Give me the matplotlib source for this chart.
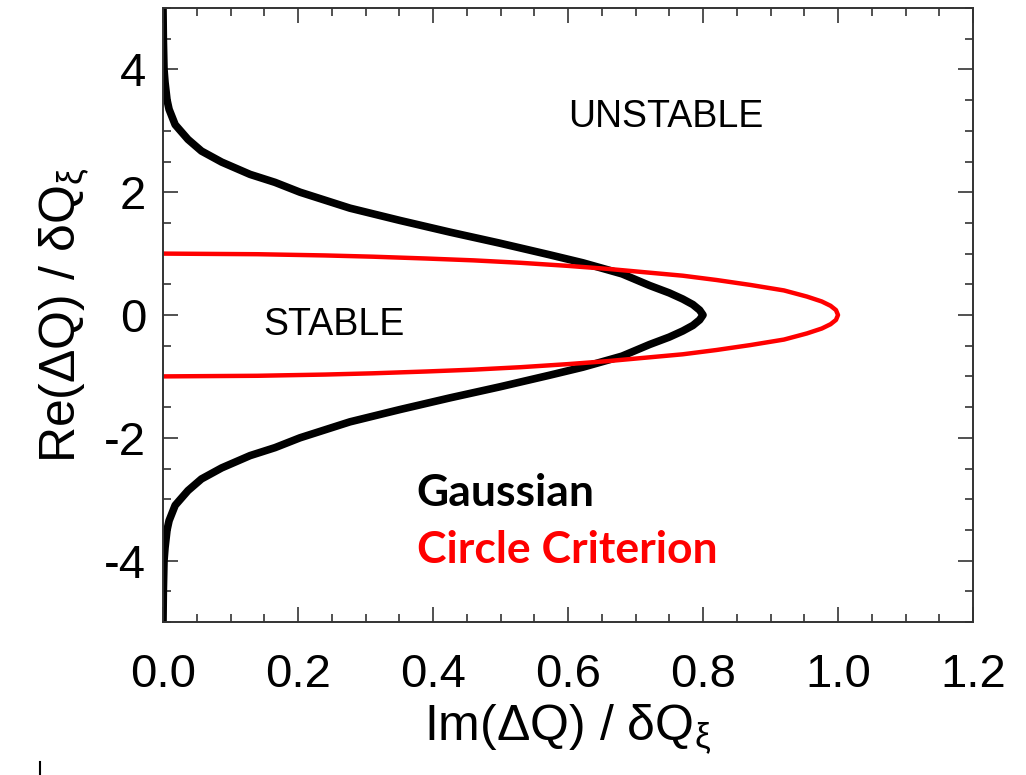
import matplotlib.pyplot as plt
import numpy as np
from matplotlib.ticker import MultipleLocator
from matplotlib.lines import Line2D

plt.rcParams['font.family'] = ['Liberation Sans', 'DejaVu Sans']
plt.rcParams['mathtext.fontset'] = 'custom'
plt.rcParams['mathtext.rm'] = 'Liberation Sans'
plt.rcParams['mathtext.it'] = 'Liberation Sans'

# Gaussian stability boundary, upper half, mirrored below
gauss_re = [5.0, 4.5, 4.0, 3.79, 3.5, 3.35, 3.1, 2.86, 2.67, 2.49, 2.29, 2.16,
            2.0, 1.74, 1.54, 1.35, 1.17, 0.98, 0.85, 0.67, 0.48, 0.36, 0.26,
            0.17, 0.08, 0.0]
gauss_im = [0.0, 0.0005, 0.0015, 0.003, 0.006, 0.009, 0.018, 0.037, 0.057,
            0.087, 0.129, 0.166, 0.203, 0.277, 0.351, 0.425, 0.499, 0.573,
            0.622, 0.68, 0.721, 0.75, 0.77, 0.785, 0.795, 0.80]

# circle criterion, upper half
circ_re = [1.0, 0.99, 0.97, 0.95, 0.92, 0.89, 0.85, 0.80, 0.75, 0.70, 0.64,
           0.57, 0.49, 0.40, 0.30, 0.22, 0.15, 0.08, 0.0]
circ_im = [0.0, 0.14, 0.24, 0.31, 0.39, 0.46, 0.53, 0.60, 0.66, 0.71, 0.77,
           0.82, 0.87, 0.92, 0.954, 0.976, 0.989, 0.997, 1.0]

x_ticks = [0.0, 0.2, 0.4, 0.6, 0.8, 1.0, 1.2]
y_ticks = [-4, -2, 0, 2, 4]

g_re = np.concatenate([gauss_re, -np.array(gauss_re[::-1])])
g_im = np.concatenate([gauss_im, gauss_im[::-1]])
c_re = np.concatenate([circ_re, -np.array(circ_re[::-1])])
c_im = np.concatenate([circ_im, circ_im[::-1]])

fig = plt.figure(figsize=(10.26, 7.75), dpi=100)
ax = fig.add_axes([163 / 1026, 1 - 622 / 775, 810 / 1026, 614 / 775])

ax.plot(g_im, g_re, color='black', lw=5.5, solid_capstyle='butt',
        solid_joinstyle='round')
ax.plot(c_im, c_re, color='#ff0000', lw=3.2, solid_capstyle='butt',
        solid_joinstyle='round')

ax.set_xlim(0, 1.2)
ax.set_ylim(-5, 5)
ax.set_xticks(x_ticks)
ax.set_xticklabels([f'{v:.1f}' for v in x_ticks])
ax.set_yticks(y_ticks)
ax.set_yticklabels([str(v) for v in y_ticks])
ax.xaxis.set_minor_locator(MultipleLocator(0.05))
ax.yaxis.set_minor_locator(MultipleLocator(0.5))
ax.tick_params(which='both', direction='in', top=True, right=True, width=1.2,
               color='#333333')
ax.tick_params(which='major', length=11, labelsize=34)
ax.tick_params(which='minor', length=6)
ax.tick_params(axis='x', which='major', pad=22)
ax.tick_params(axis='y', which='major', pad=12)
for s in ax.spines.values():
    s.set_linewidth(1.4)
    s.set_color('#333333')

ax.set_xlabel(r'Im($\Delta$Q) / $\delta$Q$_{\xi}$', fontsize=36, labelpad=4)
ax.set_ylabel(r'Re($\Delta$Q) / $\delta$Q$_{\xi}$', fontsize=36, labelpad=10)

ax.text(0.745, 3.22, 'UNSTABLE', fontsize=27, ha='center', va='center')
ax.text(0.253, -0.17, 'STABLE', fontsize=27, ha='center', va='center')
ax.text(0.376, -2.90, 'Gaussian', fontsize=32, fontweight='bold',
        family=['Lato', 'DejaVu Sans'], ha='left', va='center', color='black')
ax.text(0.376, -3.83, 'Circle Criterion', fontsize=32, fontweight='bold',
        family=['Lato', 'DejaVu Sans'], ha='left', va='center', color='#ff0000')

fig.add_artist(Line2D([40 / 1026, 40 / 1026], [0, 13 / 775], color='black', lw=1.5))

fig.savefig('out.png', dpi=100)
